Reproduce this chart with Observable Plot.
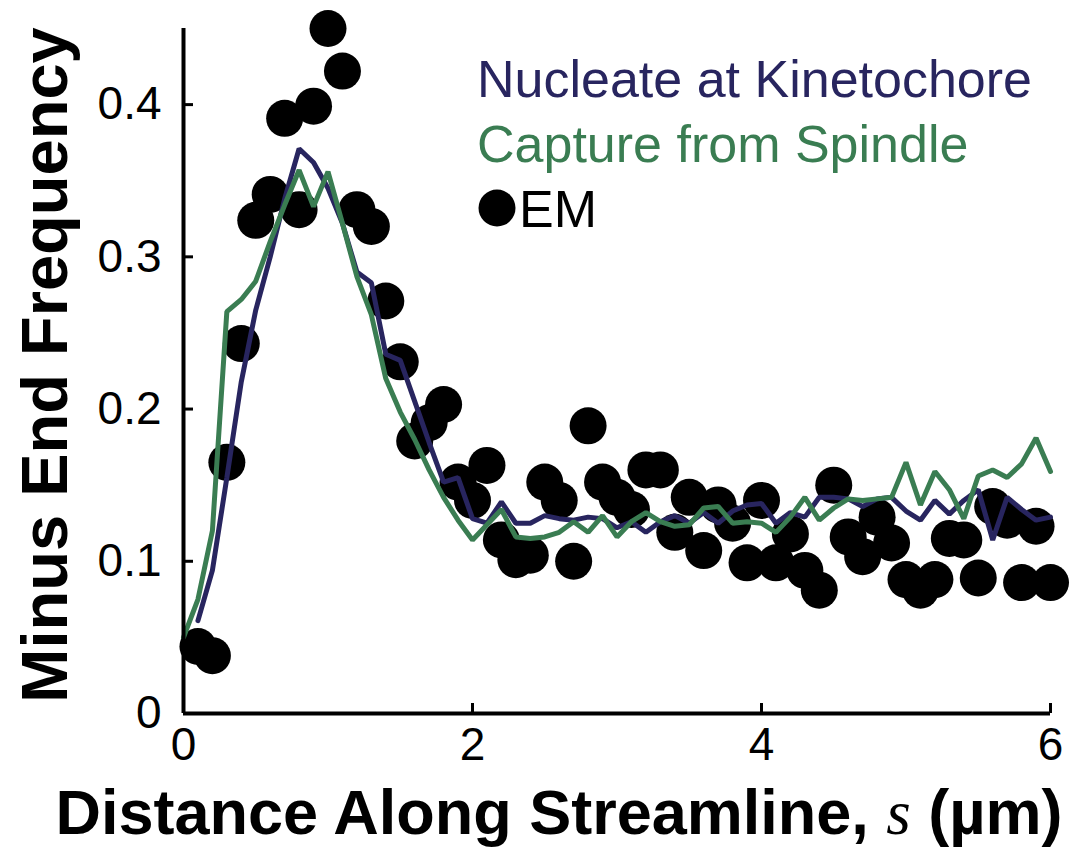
<!DOCTYPE html>
<html><head><meta charset="utf-8">
<script src="https://cdn.jsdelivr.net/npm/d3@7"></script>
<script src="https://cdn.jsdelivr.net/npm/@observablehq/plot@0.6"></script>
<style>html,body{margin:0;padding:0;background:#fff;} #chart{width:1072px;height:854px;}</style>
</head><body><div id="chart"></div>
<script>
// Distance along streamline (µm), sampled grid
const sGrid = [0.0,0.1,0.2,0.3,0.4,0.5,0.6,0.7,0.8,0.9,1.0,
  1.1,1.2,1.3,1.4,1.5,1.6,1.7,1.8,1.9,2.0,
  2.1,2.2,2.3,2.4,2.5,2.6,2.7,2.8,2.9,3.0,
  3.1,3.2,3.3,3.4,3.5,3.6,3.7,3.8,3.9,4.0,
  4.1,4.2,4.3,4.4,4.5,4.6,4.7,4.8,4.9,5.0,
  5.1,5.2,5.3,5.4,5.5,5.6,5.7,5.8,5.9,6.0];

// Nucleate at Kinetochore (s = 0.1 .. 6.0)
const nucleateValues = [0.061,0.094,0.155,0.218,0.265,0.300,0.338,0.371,0.362,0.345,
  0.322,0.290,0.283,0.236,0.232,0.205,0.178,0.152,0.155,0.128,
  0.125,0.139,0.125,0.125,0.130,0.128,0.127,0.129,0.128,0.122,
  0.126,0.119,0.126,0.130,0.125,0.132,0.125,0.133,0.137,0.138,
  0.125,0.132,0.129,0.142,0.142,0.141,0.136,0.141,0.142,0.133,
  0.127,0.140,0.131,0.140,0.147,0.114,0.142,0.134,0.127,0.129];

// Capture from Spindle (s = 0.0 .. 6.0)
const captureValues = [0.050,
  0.075,0.120,0.264,0.272,0.284,0.310,0.334,0.357,0.333,0.356,
  0.322,0.287,0.262,0.220,0.198,0.180,0.160,0.142,0.127,0.114,
  0.124,0.134,0.116,0.115,0.116,0.119,0.126,0.119,0.130,0.116,
  0.126,0.132,0.126,0.123,0.124,0.135,0.136,0.125,0.126,0.125,
  0.119,0.129,0.142,0.127,0.135,0.141,0.140,0.141,0.142,0.165,
  0.137,0.159,0.147,0.128,0.156,0.160,0.155,0.164,0.181,0.159];

// EM measurements (s = 0.1 .. 6.0)
const emValues = [0.044,0.038,0.165,0.243,0.324,0.341,0.391,0.331,0.399,0.450,
  0.422,0.331,0.320,0.271,0.231,0.179,0.191,0.203,0.152,0.140,
  0.163,0.114,0.101,0.104,0.152,0.140,0.100,0.189,0.152,0.142,
  0.134,0.160,0.160,0.119,0.142,0.107,0.137,0.125,0.099,0.140,
  0.099,0.118,0.094,0.081,0.150,0.116,0.103,0.129,0.112,0.088,
  0.081,0.088,0.115,0.114,0.089,0.136,0.127,0.086,0.123,0.086];

const xTicks = [0, 2, 4, 6];
const xTickLabels = ["0", "2", "4", "6"];
const yTicks = [0, 0.1, 0.2, 0.3, 0.4];
const yTickLabels = ["0", "0.1", "0.2", "0.3", "0.4"];
const seriesNames = ["Nucleate at Kinetochore", "Capture from Spindle", "EM"];
const seriesColors = ["#28255f", "#3a7d52", "#000000"];
const xTitleParts = ["Distance Along Streamline, ", "s", " (µm)"];
const yTitle = "Minus End Frequency";

const nucleateData = nucleateValues.map((v, i) => ({s: sGrid[i + 1], v}));
const captureData = captureValues.map((v, i) => ({s: sGrid[i], v}));
const emData = emValues.map((v, i) => ({s: sGrid[i + 1], v}));

const font = "'Liberation Sans', Arial, Helvetica, sans-serif";

const chart = Plot.plot({
  width: 1072, height: 854,
  marginLeft: 183, marginRight: 22, marginTop: 28, marginBottom: 141,
  style: {fontFamily: font, fontSize: "46px", color: "black", background: "white", overflow: "visible"},
  x: {domain: [0, 6]},
  y: {domain: [0, 0.45]},
  marks: [
    Plot.dot(emData, {x: "s", y: "v", r: 18.5, fill: seriesColors[2], stroke: "none"}),
    Plot.line(nucleateData, {x: "s", y: "v", stroke: seriesColors[0], strokeWidth: 5, strokeLinejoin: "miter"}),
    Plot.line(captureData, {x: "s", y: "v", stroke: seriesColors[1], strokeWidth: 5, strokeLinejoin: "miter"}),
    Plot.ruleX([0], {strokeWidth: 4}),
    Plot.ruleY([0], {strokeWidth: 4}),
    Plot.axisX({ticks: xTicks, tickFormat: d => xTickLabels[xTicks.indexOf(d)], tickSize: -10, tickPadding: 24, strokeWidth: 3, label: null}),
    Plot.axisY({ticks: yTicks, tickFormat: d => yTickLabels[yTicks.indexOf(d)], tickSize: -10, tickPadding: 32, strokeWidth: 3, label: null})
  ]
});

document.getElementById("chart").appendChild(chart);

const svg = d3.select(chart);
const legend = svg.append("g").attr("text-anchor", "start").attr("font-family", font).attr("font-size", 52);
// Legend
legend.append("text").attr("x", 477).attr("y", 97).attr("fill", seriesColors[0]).text(seriesNames[0]);
legend.append("text").attr("x", 477).attr("y", 162).attr("fill", seriesColors[1]).text(seriesNames[1]);
legend.append("circle").attr("cx", 497).attr("cy", 208).attr("r", 18.5).attr("fill", seriesColors[2]);
legend.append("text").attr("x", 519).attr("y", 227).attr("fill", "black").text(seriesNames[2]);

// Y title
svg.append("text")
  .attr("transform", "translate(67,365) rotate(-90)")
  .attr("text-anchor", "middle")
  .attr("font-family", font).attr("font-weight", "bold").attr("font-size", 65)
  .attr("fill", "black")
  .text(yTitle);

// X title
const xt = svg.append("text")
  .attr("x", 559).attr("y", 834)
  .attr("text-anchor", "middle")
  .attr("font-family", font).attr("font-weight", "bold").attr("font-size", 63)
  .attr("fill", "black");
xt.append("tspan").text(xTitleParts[0]);
xt.append("tspan").attr("font-family", "'Liberation Serif', 'DejaVu Serif', serif")
  .attr("font-style", "italic").attr("font-weight", "normal").text(xTitleParts[1]);
xt.append("tspan").text(xTitleParts[2]);
</script>
</body></html>
